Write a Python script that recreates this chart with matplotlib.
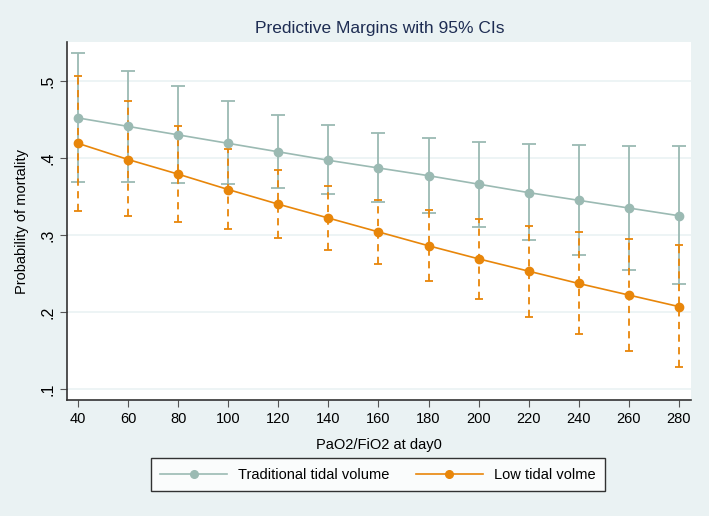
import numpy as np
import matplotlib
matplotlib.use("Agg")
import matplotlib.pyplot as plt

plt.rcParams['font.family'] = ['Liberation Sans', 'DejaVu Sans']

# PaO2/FiO2 at day0
pf = [40, 60, 80, 100, 120, 140, 160, 180, 200, 220, 240, 260, 280]

# Traditional tidal volume: margin and 95% CI
trad = [0.452, 0.441, 0.430, 0.419, 0.408, 0.397, 0.387, 0.377, 0.366, 0.355, 0.345, 0.335, 0.325]
trad_lo = [0.369, 0.369, 0.368, 0.366, 0.361, 0.353, 0.343, 0.328, 0.311, 0.294, 0.274, 0.255, 0.236]
trad_hi = [0.536, 0.513, 0.493, 0.474, 0.456, 0.443, 0.432, 0.426, 0.421, 0.418, 0.417, 0.416, 0.415]

# Low tidal volume: margin and 95% CI
low = [0.419, 0.398, 0.379, 0.359, 0.340, 0.322, 0.304, 0.286, 0.269, 0.253, 0.237, 0.222, 0.207]
low_lo = [0.331, 0.324, 0.317, 0.308, 0.296, 0.281, 0.262, 0.240, 0.217, 0.194, 0.171, 0.149, 0.129]
low_hi = [0.507, 0.474, 0.442, 0.412, 0.385, 0.364, 0.346, 0.332, 0.321, 0.312, 0.304, 0.295, 0.287]

labels = ['Traditional tidal volume', 'Low tidal volme']

bg = '#EAF2F3'
c_trad = '#9BBAB3'
c_low = '#E8860A'
navy = '#1E2D53'

fig = plt.figure(figsize=(7.09, 5.16), dpi=100, facecolor=bg)
ax = fig.add_axes([0.0945, 0.2248, 0.88, 0.6938])
ax.set_facecolor('white')

x = np.array(pf)

# CIs for traditional
t = np.array(trad)
eb1 = ax.errorbar(x, t, yerr=[t - np.array(trad_lo), np.array(trad_hi) - t],
                  fmt='none', ecolor=c_trad, elinewidth=1.3, capsize=5, capthick=1.3, zorder=2)

# CIs for low
l = np.array(low)
eb2 = ax.errorbar(x, l, yerr=[l - np.array(low_lo), np.array(low_hi) - l],
                  fmt='none', ecolor=c_low, elinewidth=1.3, capsize=3, capthick=1.3, zorder=3)
eb2[2][0].set_linestyle((0, (4, 3)))

ax.plot(x, t, color=c_trad, marker='o', markersize=6, linewidth=1.2, label=labels[0], zorder=4)
ax.plot(x, l, color=c_low, marker='o', markersize=6, linewidth=1.2, label=labels[1], zorder=5)

ax.set_xlim(35.6, 284.8)
ax.set_ylim(0.0857, 0.5506)
ax.set_xticks(pf)
ax.set_yticks([0.1, 0.2, 0.3, 0.4, 0.5])
ax.set_yticklabels(['.1', '.2', '.3', '.4', '.5'], rotation=90, va='center')
ax.tick_params(axis='both', labelsize=10.5, color='#555555', length=5, direction='out')
ax.tick_params(axis='y', labelsize=11.5)
ax.grid(axis='y', color=bg, linewidth=1.2)
ax.set_axisbelow(True)

for s in ['top', 'right']:
    ax.spines[s].set_visible(False)
for s in ['left', 'bottom']:
    ax.spines[s].set_color('#333333')
    ax.spines[s].set_linewidth(1.2)

ax.set_xlabel('PaO2/FiO2 at day0', fontsize=10.5, labelpad=9)
ax.set_ylabel('Probability of mortality', fontsize=10.5, labelpad=8)
fig.text(0.536, 0.945, 'Predictive Margins with 95% CIs', ha='center', va='center',
         fontsize=12.5, color=navy)

leg = fig.legend(loc='center', bbox_to_anchor=(0.533, 0.0795), ncol=2, fontsize=10.5,
                 frameon=True, fancybox=False, edgecolor='black', facecolor='white',
                 handlelength=4.6, columnspacing=1.8, borderpad=0.65, handletextpad=0.75)
leg.get_frame().set_linewidth(1.0)
for h in leg.legend_handles:
    h.set_markersize(5.5)

fig.savefig('out.png', dpi=100, facecolor=bg)
